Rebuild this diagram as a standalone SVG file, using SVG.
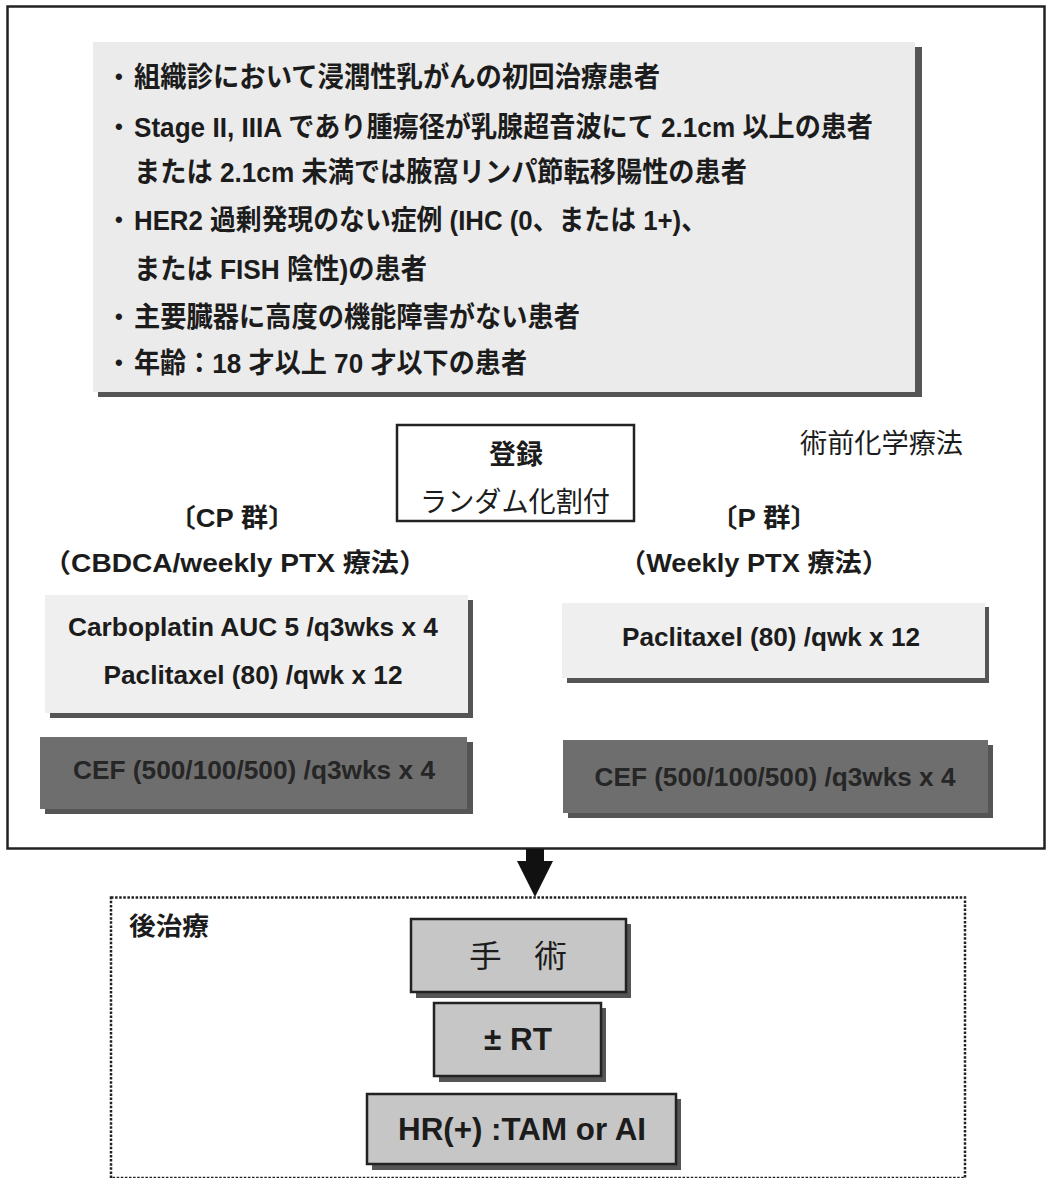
<svg xmlns="http://www.w3.org/2000/svg" width="1048" height="1178" viewBox="0 0 1048 1178">
<style>
  text { font-family: "Liberation Sans", "Noto Sans CJK JP", sans-serif; fill: #1c1c1c; }
  .b { font-weight: bold; }
  .shadow { fill: #555555; }
  .light { fill: #efefef; }
  .dark { fill: #6e6e6e; }
  .gray { fill: #c6c6c6; stroke: #222222; stroke-width: 2.5; }
  .mid { text-anchor: middle; }
  .cef { fill: #262626; }
</style>
<rect x="0" y="0" width="1048" height="1178" fill="#ffffff"/>
<g id="frame">
  <rect x="7.5" y="6.5" width="1037" height="842" fill="none" stroke="#222222" stroke-width="2.5"/>
</g>
<g id="criteria">
  <rect class="shadow" x="98" y="47" width="824" height="350"/>
  <rect x="93" y="42" width="822" height="350" fill="#ebebeb"/>
  <g font-size="28" class="b">
    <text x="115" y="84" font-size="22">•</text>
    <text x="134" y="87" textLength="526" lengthAdjust="spacingAndGlyphs">組織診において浸潤性乳がんの初回治療患者</text>
    <text x="115" y="134" font-size="22">•</text>
    <text x="134" y="137" textLength="739" lengthAdjust="spacingAndGlyphs">Stage II, IIIA であり腫瘍径が乳腺超音波にて 2.1cm 以上の患者</text>
    <text x="134" y="182" textLength="613" lengthAdjust="spacingAndGlyphs">または 2.1cm 未満では腋窩リンパ節転移陽性の患者</text>
    <text x="115" y="227" font-size="22">•</text>
    <text x="134" y="230" textLength="573" lengthAdjust="spacingAndGlyphs">HER2 過剰発現のない症例 (IHC (0、または 1+)、</text>
    <text x="134" y="279" textLength="293" lengthAdjust="spacingAndGlyphs">または FISH 陰性)の患者</text>
    <text x="115" y="324" font-size="22">•</text>
    <text x="134" y="327" textLength="446" lengthAdjust="spacingAndGlyphs">主要臓器に高度の機能障害がない患者</text>
    <text x="115" y="370" font-size="22">•</text>
    <text x="134" y="373" textLength="393" lengthAdjust="spacingAndGlyphs">年齢：18 才以上 70 才以下の患者</text>
  </g>
</g>
<g id="register">
  <rect x="397" y="425" width="237" height="96" fill="#ffffff" stroke="#222222" stroke-width="2.5"/>
  <text class="b mid" x="516" y="464" font-size="27">登録</text>
  <text x="420" y="512" font-size="28" textLength="190" lengthAdjust="spacingAndGlyphs">ランダム化割付</text>
</g>
<g id="label-preop">
  <text x="800" y="453" font-size="27" textLength="163" lengthAdjust="spacingAndGlyphs">術前化学療法</text>
</g>
<g id="group-cp">
  <text class="b mid" x="232" y="527" font-size="26" textLength="127" lengthAdjust="spacingAndGlyphs">〔CP 群〕</text>
  <text class="b mid" x="235" y="572" font-size="26" textLength="384" lengthAdjust="spacingAndGlyphs">（CBDCA/weekly PTX 療法）</text>
</g>
<g id="group-p">
  <text class="b mid" x="764" y="527" font-size="26" textLength="108" lengthAdjust="spacingAndGlyphs">〔P 群〕</text>
  <text class="b mid" x="754" y="572" font-size="26" textLength="270" lengthAdjust="spacingAndGlyphs">（Weekly PTX 療法）</text>
</g>
<g id="cp-regimen">
  <rect class="shadow" x="50" y="600" width="423" height="118"/>
  <rect class="light" x="45" y="595" width="423" height="118"/>
  <text class="b mid" x="253" y="636" font-size="26" textLength="370" lengthAdjust="spacingAndGlyphs">Carboplatin AUC 5 /q3wks x 4</text>
  <text class="b mid" x="253" y="684" font-size="26" textLength="299" lengthAdjust="spacingAndGlyphs">Paclitaxel (80) /qwk x 12</text>
</g>
<g id="cp-cef">
  <rect class="shadow" x="45" y="742" width="428" height="72"/>
  <rect class="dark" x="40" y="737" width="427" height="72"/>
  <text class="b mid cef" x="254" y="779" font-size="26" textLength="362" lengthAdjust="spacingAndGlyphs">CEF (500/100/500) /q3wks x 4</text>
</g>
<g id="p-regimen">
  <rect class="shadow" x="567" y="607" width="422" height="76"/>
  <rect class="light" x="562" y="603" width="423" height="75"/>
  <text class="b mid" x="771" y="646" font-size="26" textLength="298" lengthAdjust="spacingAndGlyphs">Paclitaxel (80) /qwk x 12</text>
</g>
<g id="p-cef">
  <rect class="shadow" x="568" y="745" width="425" height="73"/>
  <rect class="dark" x="563" y="740" width="425" height="73"/>
  <text class="b mid cef" x="775" y="786" font-size="26" textLength="361" lengthAdjust="spacingAndGlyphs">CEF (500/100/500) /q3wks x 4</text>
</g>
<g id="connectors">
  <polygon points="526,849 544,849 544,861 553,861 535,897 517,861 526,861" fill="#111111"/>
</g>
<g id="post-treatment">
  <rect x="111" y="897.5" width="854" height="280.5" fill="none" stroke="#222222" stroke-width="2.5" stroke-dasharray="2.5 1.6"/>
  <text class="b" x="129" y="935" font-size="25" textLength="80" lengthAdjust="spacingAndGlyphs">後治療</text>
</g>
<g id="surgery">
  <rect class="shadow" x="416" y="924" width="215" height="74"/>
  <rect class="gray" x="411" y="919" width="215" height="73"/>
  <text class="mid" x="518" y="967" font-size="31" textLength="98" lengthAdjust="spacingAndGlyphs">手　術</text>
</g>
<g id="rt">
  <rect class="shadow" x="439" y="1008" width="167" height="74"/>
  <rect class="gray" x="434" y="1003" width="167" height="73"/>
  <text class="b mid" x="518" y="1050" font-size="31" textLength="68" lengthAdjust="spacingAndGlyphs">± RT</text>
</g>
<g id="hormone">
  <rect class="shadow" x="372" y="1099" width="309" height="71"/>
  <rect class="gray" x="367" y="1094" width="309" height="70"/>
  <text class="b mid" x="522" y="1140" font-size="31" textLength="248" lengthAdjust="spacingAndGlyphs">HR(+) :TAM or AI</text>
</g>
</svg>
